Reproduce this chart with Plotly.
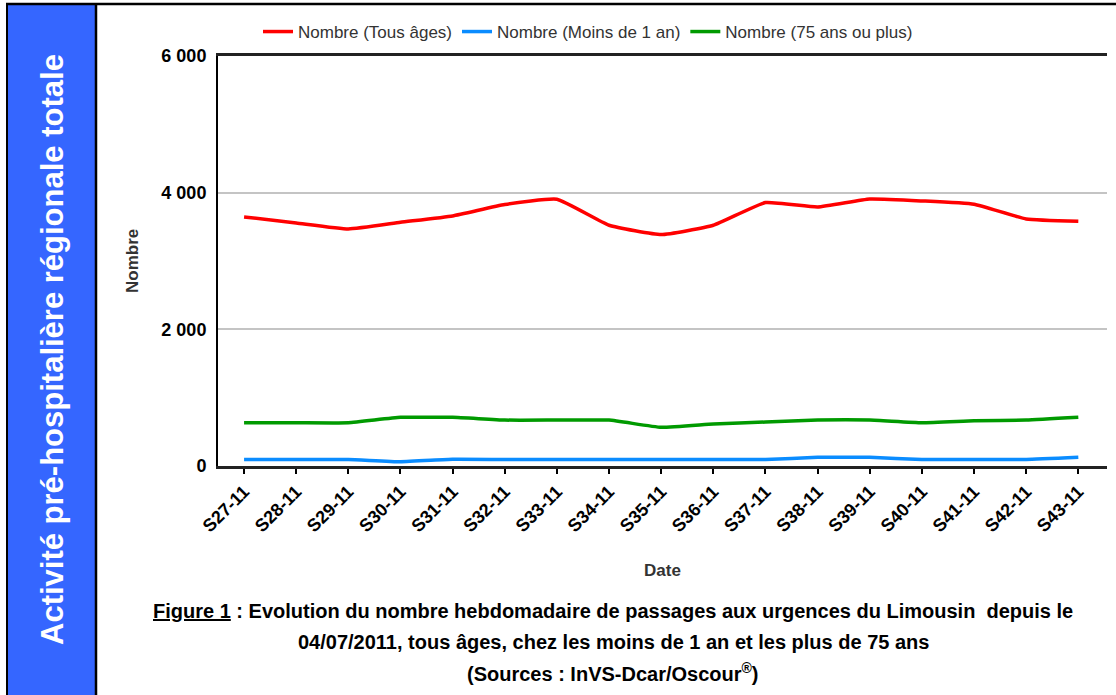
import plotly.graph_objects as go

weeks = ["S27-11", "S28-11", "S29-11", "S30-11", "S31-11", "S32-11", "S33-11", "S34-11", "S35-11",
         "S36-11", "S37-11", "S38-11", "S39-11", "S40-11", "S41-11", "S42-11", "S43-11"]
tous_ages = [3645, 3557, 3469, 3567, 3660, 3826, 3903, 3523, 3387, 3523, 3855, 3791, 3908, 3879, 3830, 3616, 3582]
moins_1an = [95, 95, 95, 62, 98, 95, 95, 95, 95, 95, 95, 127, 127, 95, 95, 95, 127]
plus_75 = [633, 633, 633, 712, 712, 672, 672, 672, 566, 614, 643, 672, 672, 633, 662, 672, 712]
ytick_vals = [0, 2000, 4000, 6000]
ytick_text = ["0", "2 000", "4 000", "6 000"]

W, H = 1116, 695
PX0, PX1, PY0, PY1 = 218, 1107, 56, 466


def px(x):
    return (x - PX0) / (PX1 - PX0)


def py(y):
    return (PY1 - y) / (PY1 - PY0)


SANS = "Liberation Sans, Arial, sans-serif"

fig = go.Figure()
series = [("Nombre (Tous âges)", tous_ages, "#ff0000"),
          ("Nombre (Moins de 1 an)", moins_1an, "#0a8cff"),
          ("Nombre (75 ans ou plus)", plus_75, "#009a00")]
for name, vals, col in series:
    fig.add_trace(go.Scatter(x=list(range(len(weeks))), y=vals, name=name, mode="lines",
                             line=dict(color=col, width=3.5, shape="spline", smoothing=0.4)))

fig.update_layout(
    width=W, height=H,
    margin=dict(l=PX0, r=W - PX1, t=PY0, b=H - PY1),
    paper_bgcolor="white", plot_bgcolor="white",
    showlegend=True,
    legend=dict(orientation="h", x=px(258), xanchor="left", y=py(32), yanchor="middle",
                font=dict(family=SANS, size=17, color="#333333"), itemwidth=30,
                bgcolor="rgba(0,0,0,0)", traceorder="normal"),
    xaxis=dict(range=[-0.5, 16.55], tickvals=list(range(len(weeks))), ticktext=weeks,
               tickangle=-45, ticks="outside", ticklen=5, tickwidth=2, tickcolor="black",
               showline=True, linecolor="#222222", linewidth=3, mirror=True,
               showgrid=False, zeroline=False,
               tickfont=dict(family=SANS, size=18, color="black", weight="bold")),
    yaxis=dict(range=[0, 6000], tickvals=ytick_vals, ticktext=ytick_text,
               showline=True, linecolor="black", linewidth=2, ticks="",
               showgrid=True, gridcolor="#c4c4c4", gridwidth=2, zeroline=False,
               ticklabelstandoff=6,
               tickfont=dict(family=SANS, size=18, color="black", weight="bold")),
)

shapes = []
# blue side band
shapes.append(dict(type="rect", xref="paper", yref="paper", x0=px(7), x1=px(95), y0=py(H + 5), y1=py(4),
                   fillcolor="#3566ff", line=dict(width=0), layer="below"))
# frame lines
shapes.append(dict(type="line", xref="paper", yref="paper", x0=px(6), x1=px(W + 5), y0=py(4), y1=py(4),
                   line=dict(color="black", width=2.5)))
shapes.append(dict(type="line", xref="paper", yref="paper", x0=px(7), x1=px(7), y0=py(3), y1=py(H + 5),
                   line=dict(color="black", width=2)))
shapes.append(dict(type="line", xref="paper", yref="paper", x0=px(96), x1=px(96), y0=py(3), y1=py(H + 5),
                   line=dict(color="black", width=2.5)))
fig.update_layout(shapes=shapes)

ann = []
ann.append(dict(text="<b>Activité pré-hospitalière régionale totale</b>", x=px(52), y=py(350),
                xref="paper", yref="paper", showarrow=False, textangle=-90,
                font=dict(family=SANS, size=31, color="white"), xanchor="center", yanchor="middle"))
ann.append(dict(text="<b>Nombre</b>", x=px(132), y=py(261), xref="paper", yref="paper",
                showarrow=False, textangle=-90, font=dict(family=SANS, size=17, color="#333333"),
                xanchor="center", yanchor="middle"))
ann.append(dict(text="<b>Date</b>", x=px(662), y=py(570), xref="paper", yref="paper",
                showarrow=False, font=dict(family=SANS, size=17, color="#333333"),
                xanchor="center", yanchor="middle"))
cap_lines = [
    "<b><u>Figure 1</u> : Evolution du nombre hebdomadaire de passages aux urgences du Limousin  depuis le</b>",
    "<b>04/07/2011, tous âges, chez les moins de 1 an et les plus de 75 ans</b>",
    "<b>(Sources : InVS-Dcar/Oscour<sup>®</sup>)</b>",
]
for line, ycap in zip(cap_lines, [611, 642, 672]):
    ann.append(dict(text=line, x=px(613), y=py(ycap), xref="paper", yref="paper", showarrow=False,
                    font=dict(family=SANS, size=20, color="black"),
                    xanchor="center", yanchor="middle"))
fig.update_layout(annotations=ann)

fig.write_html("out.html", config={"displayModeBar": False},
               post_script="document.body.style.margin='0px';document.body.style.overflow='hidden';")
